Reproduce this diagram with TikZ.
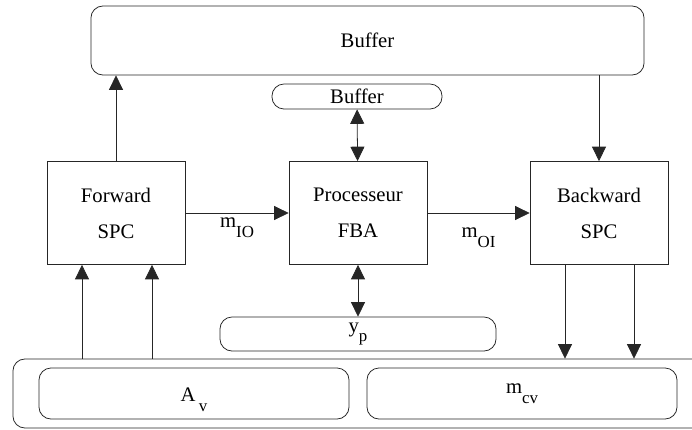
\documentclass[tikz,border=0pt]{standalone}
\usepackage{fontspec}
\setmainfont{Liberation Serif}
\usetikzlibrary{arrows.meta}

% lowered index as printed in the figure
\newcommand{\lowidx}[1]{\raisebox{-7pt}{\fontsize{12}{12}\selectfont #1}}

\begin{document}
\begin{tikzpicture}[x=0.025cm,y=-0.025cm,
  every node/.style={font=\fontsize{14.7}{25.5}\selectfont},
  line/.style={draw=black!85,line width=0.55pt},
  blk/.style={line,minimum width=3.45cm,minimum height=2.575cm,align=center},
  rbox/.style={line,rounded corners=0.3cm,inner sep=0pt},
  arr/.style={line,-{Triangle[length=3.6mm,width=3.5mm]}},
  biarr/.style={line,{Triangle[length=3.6mm,width=3.5mm]}-{Triangle[length=3.6mm,width=3.5mm]}}]
\useasboundingbox (0,0) rectangle (692,429);
\clip (0,0) rectangle (692,429);

% buffers
\node[rbox,minimum width=13.825cm,minimum height=1.725cm] (topbuf) at (367.5,40.5) {Buffer};
\node[rbox,minimum width=4.25cm,minimum height=0.625cm] (smallbuf) at (357,96.5) {Buffer};

% processing blocks
\node[blk] (fwd) at (116,213) {Forward\\SPC};
\node[blk] (fba) at (358,213) {Processeur\\FBA};
\node[blk] (bwd) at (599,213) {Backward\\SPC};

\node[rbox,minimum width=6.9cm,minimum height=0.85cm] (yp) at (358,334) {y\lowidx{p}};

% storage
\node[rbox,minimum width=17.675cm,minimum height=1.725cm] (store) at (366.5,393.5) {};
\node[rbox,minimum width=7.75cm,minimum height=1.275cm] (av) at (194,393.5) {};
\node at ([yshift=-0.15cm]av.center) {A\,\lowidx{v}};
\node[rbox,minimum width=7.75cm,minimum height=1.275cm] (mcv) at (522,393.5) {m\lowidx{cv}};

% connectors
\draw[arr] (fwd.north) -- (fwd.north |- topbuf.south);
\draw[arr] (bwd.north |- topbuf.south) -- (bwd.north);
\draw[biarr] (smallbuf) -- (fba);
\draw[biarr] (fba) -- (yp);
\draw[arr] (fwd) -- node[below=0pt] {m\lowidx{IO}} (fba);
\draw[arr] (fba) -- node[below=7pt] {m\lowidx{OI}} (bwd);

\coordinate (in1) at ([xshift=-0.85cm]fwd.south);
\coordinate (in2) at ([xshift=0.9cm]fwd.south);
\coordinate (out1) at ([xshift=-0.85cm]bwd.south);
\coordinate (out2) at ([xshift=0.875cm]bwd.south);
\draw[arr] (in1 |- store.north) -- (in1);
\draw[arr] (in2 |- store.north) -- (in2);
\draw[arr] (out1) -- (out1 |- store.north);
\draw[arr] (out2) -- (out2 |- store.north);
\end{tikzpicture}
\end{document}
